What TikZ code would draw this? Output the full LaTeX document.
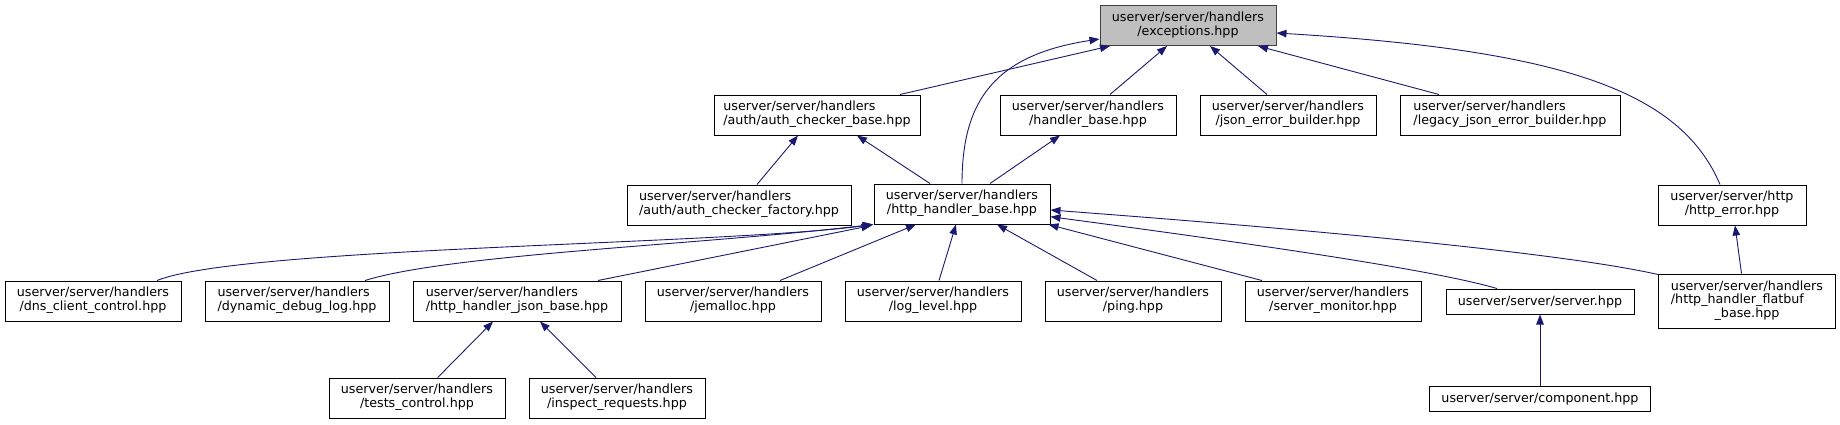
\documentclass[tikz,border=0pt]{standalone}
\usepackage{fontspec}
\setmainfont{DejaVu Sans}
\usepackage{xcolor}
\usepackage{tikz}
\usetikzlibrary{arrows.meta}
\definecolor{DoxEdge}{HTML}{191970}
\definecolor{DoxGray}{HTML}{BFBFBF}
\definecolor{DoxLine}{HTML}{404040}
\newlength\dxwa
\newlength\dxwb
\newcommand\dxtwo[2]{\settowidth\dxwa{#1}\settowidth\dxwb{#2}%
  \ifdim\dxwb>\dxwa\setlength\dxwa{\dxwb}\fi
  \begin{tabular}{@{}c@{}}\makebox[\dxwa][l]{#1}\\#2\end{tabular}}
\newcommand\dxthree[3]{\settowidth\dxwa{#1}\settowidth\dxwb{#2}%
  \ifdim\dxwb>\dxwa\setlength\dxwa{\dxwb}\fi
  \begin{tabular}{@{}c@{}}\makebox[\dxwa][l]{#1}\\\makebox[\dxwa][l]{#2}\\#3\end{tabular}}

\begin{document}
\begin{tikzpicture}[x=1pt,y=-1pt,
    font=\fontsize{12.7pt}{13.6pt}\selectfont,
    file/.style={draw=black,line width=1pt,fill=white,inner sep=0pt,
      minimum width=176pt,minimum height=40pt},
    dep/.style={DoxEdge,line width=0.9pt,
      -{Triangle[length=10pt,width=7.5pt]}}]
  \useasboundingbox (0,0) rectangle (1840,424);
  % top
  \node[file,fill=DoxGray,draw=DoxLine] (exc) at (1188,25.5)
    {\dxtwo{userver/server/handlers}{/exceptions.hpp}};
  % second row
  \node[file,minimum width=206pt] (acb) at (817,115)
    {\dxtwo{userver/server/handlers}{/auth/auth\_checker\_base.hpp}};
  \node[file] (hb) at (1088,115)
    {\dxtwo{userver/server/handlers}{/handler\_base.hpp}};
  \node[file] (jeb) at (1288,115)
    {\dxtwo{userver/server/handlers}{/json\_error\_builder.hpp}};
  \node[file,minimum width=220pt] (ljeb) at (1510,115)
    {\dxtwo{userver/server/handlers}{/legacy\_json\_error\_builder.hpp}};
  % third row
  \node[file,minimum width=224pt] (acf) at (739,205)
    {\dxtwo{userver/server/handlers}{/auth/auth\_checker\_factory.hpp}};
  \node[file] (hhb) at (962,204)
    {\dxtwo{userver/server/handlers}{/http\_handler\_base.hpp}};
  \node[file,minimum width=148pt] (herr) at (1732,205)
    {\dxtwo{userver/server/http}{/http\_error.hpp}};
  % fourth row
  \node[file] (dns) at (93,301)
    {\dxtwo{userver/server/handlers}{/dns\_client\_control.hpp}};
  \node[file,minimum width=184pt] (ddl) at (297,301)
    {\dxtwo{userver/server/handlers}{/dynamic\_debug\_log.hpp}};
  \node[file,minimum width=208pt] (hjb) at (517,301)
    {\dxtwo{userver/server/handlers}{/http\_handler\_json\_base.hpp}};
  \node[file] (jem) at (733,301)
    {\dxtwo{userver/server/handlers}{/jemalloc.hpp}};
  \node[file] (ll) at (933,301)
    {\dxtwo{userver/server/handlers}{/log\_level.hpp}};
  \node[file] (ping) at (1133,301)
    {\dxtwo{userver/server/handlers}{/ping.hpp}};
  \node[file] (sm) at (1333,301)
    {\dxtwo{userver/server/handlers}{/server\_monitor.hpp}};
  \node[file,minimum width=188pt,minimum height=25pt] (srv) at (1540,301.5)
    {userver/server/server.hpp};
  \node[file,minimum width=177pt,minimum height=54pt] (fb) at (1747,301)
    {\dxthree{userver/server/handlers}{/http\_handler\_flatbuf}{\_base.hpp}};
  % bottom row
  \node[file] (tc) at (417,398)
    {\dxtwo{userver/server/handlers}{/tests\_control.hpp}};
  \node[file] (ir) at (617,398)
    {\dxtwo{userver/server/handlers}{/inspect\_requests.hpp}};
  \node[file,minimum width=221pt,minimum height=25pt] (comp) at (1540,398.5)
    {userver/server/component.hpp};

  % includes of exceptions.hpp
  \draw[dep] ([xshift=83pt]acb.north) -- ([xshift=-78pt]exc.south);
  \draw[dep] (hhb.north) .. controls (962,100) and (995,55)
    .. ([yshift=-13.5pt]exc.west);
  \draw[dep] ([xshift=22pt]hb.north) -- ([xshift=-21pt]exc.south);
  \draw[dep] ([xshift=-21pt]jeb.north) -- ([xshift=22pt]exc.south);
  \draw[dep] ([xshift=-71pt]ljeb.north) -- ([xshift=70pt]exc.south);
  \draw[dep] ([xshift=-12pt]herr.north) .. controls (1680,90) and (1560,50)
    .. ([yshift=-7.5pt]exc.east);
  % second level
  \draw[dep] ([xshift=18pt]acf.north) -- ([xshift=-19pt]acb.south);
  \draw[dep] ([xshift=-32pt]hhb.north) -- ([xshift=40pt]acb.south);
  \draw[dep] ([xshift=28pt]hhb.north) -- ([xshift=-28pt]hb.south);
  % includes of http_handler_base.hpp
  \draw[dep] ([xshift=64pt]dns.north) .. controls (240,247) and (720,245)
    .. (hhb.south west);
  \draw[dep] ([xshift=68pt]ddl.north) .. controls (450,254) and (700,245)
    .. ([xshift=-1pt]hhb.south west);
  \draw[dep] ([xshift=81pt]hjb.north) -- ([xshift=-2pt,yshift=-1pt]hhb.south west);
  \draw[dep] ([xshift=47pt]jem.north) -- ([xshift=-46pt]hhb.south);
  \draw[dep] ([xshift=6pt]ll.north) -- ([xshift=-6pt]hhb.south);
  \draw[dep] ([xshift=-36pt]ping.north) -- ([xshift=35pt]hhb.south);
  \draw[dep] ([xshift=-71pt]sm.north) -- ([xshift=-2pt]hhb.south east);
  \draw[dep] ([xshift=-43pt]srv.north) .. controls (1440,272) and (1300,250)
    .. ([yshift=-12.7pt]hhb.east);
  \draw[dep] ([yshift=-1pt]fb.north west) .. controls (1550,250) and (1250,225)
    .. ([yshift=-6pt]hhb.east);
  \draw[dep] ([xshift=-5.5pt]fb.north) -- ([xshift=3pt]herr.south);
  % bottom level
  \draw[dep] ([xshift=20.7pt]tc.north) -- ([xshift=-24pt]hjb.south);
  \draw[dep] ([xshift=-21pt]ir.north) -- ([xshift=23pt]hjb.south);
  \draw[dep] (comp.north) -- (srv.south);
\end{tikzpicture}
\end{document}
